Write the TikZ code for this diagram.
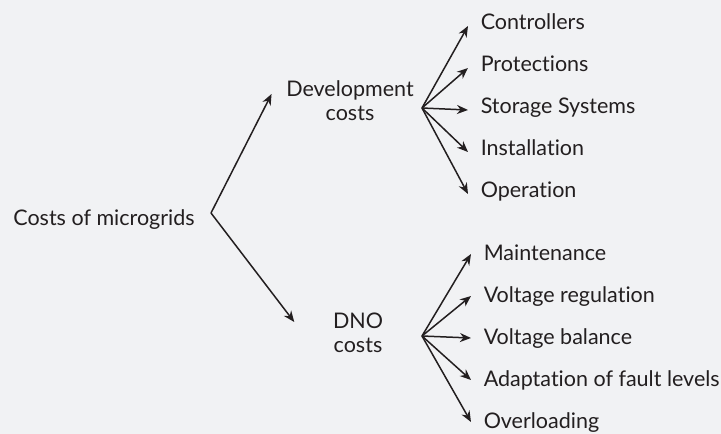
\documentclass[tikz,border=0pt]{standalone}
\usepackage{fontspec}
\setmainfont{Lato}[Ligatures={CommonOff,ContextualOff}]
\usetikzlibrary{arrows.meta,positioning}
\definecolor{ink}{RGB}{35,31,32}
\definecolor{paper}{RGB}{241,242,244}

\begin{document}
\begin{tikzpicture}[x=1pt,y=-1pt,->,>={Stealth[length=11pt,width=9pt,inset=3.5pt]},
    line width=1.5pt,color=ink,font=\fontsize{21.5}{24}\selectfont,node distance=42pt,
    label/.style={inner sep=0pt,align=center},
    leaf/.style={inner xsep=12pt,inner ysep=0pt,text height=8pt,text depth=2pt,anchor=west},
    lowleaf/.style={leaf,text height=14pt}]
  \fill[paper,-] (0,0) rectangle (721,434);
  \useasboundingbox (0,0) rectangle (721,434);
  \node[label]                                 (root) at (104,220) {Costs of microgrids};
  \node[label]                                 (dev)  at (350,101) {Development\\costs};
  \node[label]                                 (dno)  at (358,333) {DNO\\costs};
  \coordinate (rootfork) at (211,213);
  \coordinate (devfork)  at (422,108);
  \coordinate (dnofork)  at (422,336);
  \node[leaf]                                  (ctrl) at (468,26)  {Controllers};
  \node[leaf,below=of ctrl.west,anchor=west]   (prot)              {Protections};
  \node[leaf,below=of prot.west,anchor=west]   (stor)              {Storage Systems};
  \node[leaf,below=of stor.west,anchor=west]   (inst)              {Installation};
  \node[leaf,below=of inst.west,anchor=west]   (oper)              {Operation};
  \node[lowleaf]                                  (main) at (471,254) {Maintenance};
  \node[lowleaf,below=of main.west,anchor=west]   (vreg)              {Voltage regulation};
  \node[lowleaf,below=of vreg.west,anchor=west]   (vbal)              {Voltage balance};
  \node[lowleaf,below=of vbal.west,anchor=west]   (adap)              {Adaptation of fault levels};
  \node[lowleaf,below=of adap.west,anchor=west]   (ovld)              {Overloading};
  \path (rootfork) edge ([shift={(-14pt,7pt)}]dev.west)
                   edge ([shift={(-38pt,11pt)}]dno.west)
        (devfork)  edge (ctrl.west)
                   edge (prot.west)
                   edge (stor.west)
                   edge (inst.west)
                   edge (oper.west)
        (dnofork)  edge (main.west)
                   edge (vreg.west)
                   edge (vbal.west)
                   edge (adap.west)
                   edge (ovld.west);
\end{tikzpicture}
\end{document}
